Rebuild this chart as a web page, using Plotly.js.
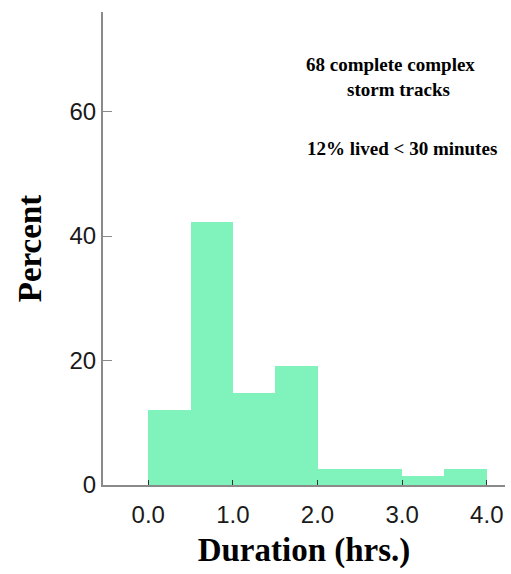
<!DOCTYPE html>
<html>
<head>
<meta charset="utf-8">
<script src="https://cdn.plot.ly/plotly-3.0.1.min.js"></script>
<style>html,body{margin:0;padding:0;background:#fff;}#chart{width:511px;height:574px;}</style>
</head>
<body>
<div id="chart"></div>
<script>
// Histogram bins (hours) and percent of storm tracks
var binStart = [0.0, 0.5, 1.0, 1.5, 2.0, 2.5, 3.0, 3.5];
var binEnd   = [0.5, 1.0, 1.5, 2.0, 2.5, 3.0, 3.5, 4.0];
var percent  = [12, 42.3, 14.8, 19.1, 2.6, 2.6, 1.5, 2.6];

var xTickVals = [0, 1, 2, 3, 4];
var xTickText = ['0.0', '1.0', '2.0', '3.0', '4.0'];
var yTickVals = [0, 20, 40, 60];
var yTickText = ['0', '20', '40', '60'];

var noteLines = ['68 complete complex', 'storm tracks', '12% lived < 30 minutes'];

var widths = binStart.map(function (s, i) { return binEnd[i] - s; });

var serif = 'Liberation Serif, Times New Roman, serif';
var sans = 'Liberation Sans, Arial, Helvetica, sans-serif';

var trace = {
  type: 'bar',
  x: binStart,
  y: percent,
  width: widths,
  offset: 0,
  marker: { color: '#80f3bc', line: { width: 0 } },
  hoverinfo: 'x+y'
};

var layout = {
  width: 511,
  height: 574,
  margin: { l: 103, r: 6, t: 12, b: 89 },
  paper_bgcolor: '#ffffff',
  plot_bgcolor: '#ffffff',
  showlegend: false,
  bargap: 0,
  xaxis: {
    range: [-0.535, 4.215],
    tickvals: xTickVals,
    ticktext: xTickText,
    ticks: 'inside',
    ticklen: 5,
    tickwidth: 1,
    tickcolor: '#333333',
    showline: true,
    linecolor: '#8a8a8a',
    linewidth: 1.5,
    showgrid: false,
    zeroline: false,
    ticklabelstandoff: 8,
    tickfont: { family: sans, size: 24, color: '#1a1a1a' },
    title: { text: 'Duration (hrs.)', font: { family: serif, size: 33, color: '#000000', weight: 'bold' }, standoff: 10 },
    automargin: false
  },
  yaxis: {
    range: [0, 76],
    tickvals: yTickVals,
    ticktext: yTickText,
    ticks: 'inside',
    ticklen: 9,
    tickwidth: 1,
    tickcolor: '#8a8a8a',
    showline: true,
    linecolor: '#8a8a8a',
    linewidth: 2,
    showgrid: false,
    zeroline: false,
    ticklabelstandoff: 0,
    tickfont: { family: sans, size: 24, color: '#1a1a1a' },
    title: { text: 'Percent', font: { family: serif, size: 33, color: '#000000', weight: 'bold' }, standoff: 18 },
    automargin: false
  },
  annotations: [
    { xref: 'paper', yref: 'paper', x: 0.714, y: 0.888, xanchor: 'center', yanchor: 'middle', showarrow: false,
      text: noteLines[0], font: { family: serif, size: 19, color: '#000000', weight: 'bold' } },
    { xref: 'paper', yref: 'paper', x: 0.734, y: 0.837, xanchor: 'center', yanchor: 'middle', showarrow: false,
      text: noteLines[1], font: { family: serif, size: 19, color: '#000000', weight: 'bold' } },
    { xref: 'paper', yref: 'paper', x: 0.744, y: 0.712, xanchor: 'center', yanchor: 'middle', showarrow: false,
      text: noteLines[2], font: { family: serif, size: 19, color: '#000000', weight: 'bold' } }
  ]
};

Plotly.newPlot('chart', [trace], layout, { displayModeBar: false, staticPlot: true });
</script>
</body>
</html>
